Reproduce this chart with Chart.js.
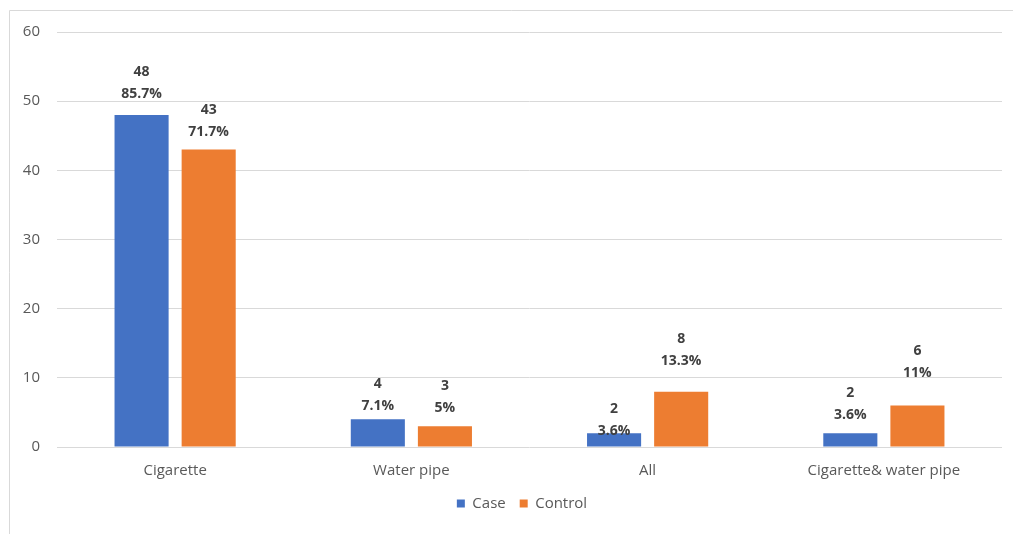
<!DOCTYPE html>
<html>
<head>
<meta charset="utf-8">
<script src="https://cdn.jsdelivr.net/npm/chart.js@4.4.1/dist/chart.umd.min.js"></script>
<style>
  html, body { margin: 0; padding: 0; background: #ffffff; overflow: hidden; }
  #wrap { position: absolute; left: 0; top: 0; width: 1013px; height: 534px; }
</style>
</head>
<body>
<div id="wrap"><canvas id="chart" width="1013" height="534"></canvas></div>
<script>
// Smoking type by group
const categories = ['Cigarette', 'Water pipe', 'All', 'Cigarette& water pipe'];
const caseCounts = [48, 4, 2, 2];
const controlCounts = [43, 3, 8, 6];
const casePercents = ['85.7%', '7.1%', '3.6%', '3.6%'];
const controlPercents = ['71.7%', '5%', '13.3%', '11%'];
const yTicks = [0, 10, 20, 30, 40, 50, 60];

// Vertical lift (px) of each percentage line above its bar top
const caseLabelLift = [21, 13, 2, 18];
const controlLabelLift = [18, 18, 31, 32];

const FONT = "'Open Sans', 'Noto Sans', sans-serif";

const frame = {
  id: 'frame',
  beforeDraw(chart) {
    const c = chart.ctx;
    c.save();
    c.strokeStyle = '#d9d9d9';
    c.lineWidth = 1;
    c.beginPath();
    c.moveTo(9.5, 534);
    c.lineTo(9.5, 10.5);
    c.lineTo(1013, 10.5);
    c.stroke();
    c.restore();
  }
};

// Nudge the legend so it sits centred under the plot area
const legendShift = {
  id: 'legendShift',
  afterLayout(chart) {
    const lg = chart.legend;
    if (lg) { lg.left += 21; lg.right += 21; }
  }
};

const valueLabels = {
  id: 'valueLabels',
  afterDatasetsDraw(chart) {
    const c = chart.ctx;
    c.save();
    c.font = "bold 14px " + FONT;
    c.fillStyle = '#404040';
    c.textAlign = 'center';
    c.textBaseline = 'middle';
    const pcts = [casePercents, controlPercents];
    const lifts = [caseLabelLift, controlLabelLift];
    chart.data.datasets.forEach((ds, di) => {
      chart.getDatasetMeta(di).data.forEach((bar, i) => {
        const yPct = bar.y - lifts[di][i];
        c.fillText(String(ds.data[i]), bar.x, yPct - 22);
        c.fillText(pcts[di][i], bar.x, yPct);
      });
    });
    c.restore();
  }
};

new Chart(document.getElementById('chart'), {
  type: 'bar',
  data: {
    labels: categories,
    datasets: [
      { label: 'Case', data: caseCounts, backgroundColor: '#4472C4' },
      { label: 'Control', data: controlCounts, backgroundColor: '#ED7D31' }
    ]
  },
  options: {
    responsive: false,
    animation: false,
    devicePixelRatio: 1,
    layout: { padding: { left: 0, right: 11, top: 32, bottom: 13 } },
    datasets: { bar: { categoryPercentage: 0.568, barPercentage: 0.806 } },
    plugins: {
      legend: {
        position: 'bottom',
        labels: {
          boxWidth: 8, boxHeight: 8, padding: 14,
          color: '#595959',
          font: { family: FONT, size: 15 }
        }
      },
      tooltip: { enabled: false }
    },
    scales: {
      x: {
        grid: { display: false },
        border: { display: false },
        ticks: { color: '#595959', font: { family: FONT, size: 15 }, padding: 7 },
        afterFit(s) { s.height = 35; }
      },
      y: {
        min: 0, max: 60,
        afterBuildTicks(s) { s.ticks = yTicks.map(v => ({ value: v })); },
        grid: { color: '#d9d9d9', drawTicks: false },
        border: { display: false },
        ticks: { color: '#595959', font: { family: FONT, size: 15 }, padding: 17 },
        afterFit(s) { s.width = 57; }
      }
    }
  },
  plugins: [frame, legendShift, valueLabels]
});
</script>
</body>
</html>
